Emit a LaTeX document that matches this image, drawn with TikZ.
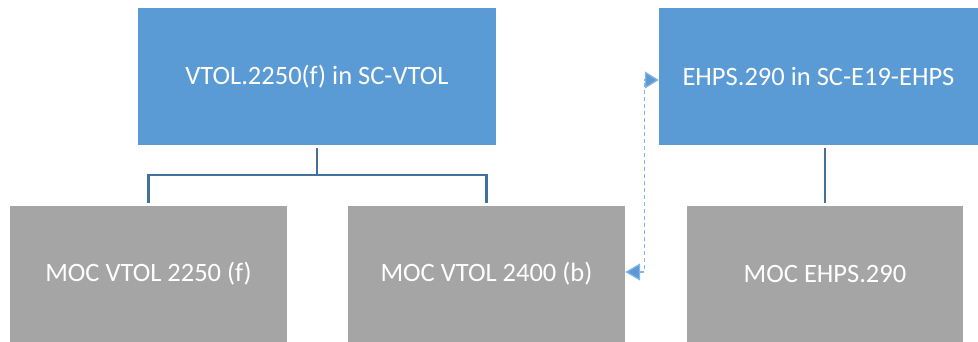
\documentclass[tikz,border=0pt]{standalone}
\usepackage{fontspec}
\setmainfont{Carlito}
\usetikzlibrary{arrows.meta}
\definecolor{boxblue}{HTML}{5B9BD5}
\definecolor{boxgray}{HTML}{A5A5A5}
\definecolor{linkblue}{HTML}{41719C}
\tikzset{
	scbox/.style={fill=boxblue, text=white, inner sep=0pt, minimum height=137pt, font=\fontsize{26.5}{30}\selectfont},
	mocbox/.style={fill=boxgray, text=white, inner sep=0pt, minimum width=277pt, minimum height=136pt, font=\fontsize{26.5}{30}\selectfont},
	link/.style={draw=linkblue, line width=2.2pt, shorten <=3pt, shorten >=3pt},
	xref/.style={draw=boxblue!75, line width=1.3pt, dash pattern=on 4pt off 3pt, {Triangle[length=15pt,width=17pt,fill=boxblue]}-{Triangle[length=14pt,width=17pt,fill=boxblue]}}
}
\begin{document}
	\begin{tikzpicture}[x=1pt, y=-1pt]
		\useasboundingbox (0,0) rectangle (978,342);
		\node[scbox, minimum width=358pt] (vtol) at (317,76.5) {VTOL.2250(f) in SC-VTOL};
		\node[scbox, minimum width=319pt] (ehps) at (818.5,76.5) {EHPS.290 in SC-E19-EHPS};
		\node[mocbox] (mocf) at (148.5,274) {MOC VTOL 2250 (f)};
		\node[mocbox] (mocb) at (486.5,274) {MOC VTOL 2400 (b)};
		\node[mocbox, minimum width=276pt] (mocehps) at (825,274) {MOC EHPS.290};
		\draw[link] (vtol.south) |- (317,175) -| (mocf.north);
		\draw[link] (vtol.south) |- (317,175) -| (mocb.north);
		\draw[link] (ehps.south -| mocehps.north) -- (mocehps.north);
		\draw[xref] ([yshift=2pt]mocb.east) -- ++(19,0) |- ([yshift=-3.5pt]ehps.west);
	\end{tikzpicture}
\end{document}
